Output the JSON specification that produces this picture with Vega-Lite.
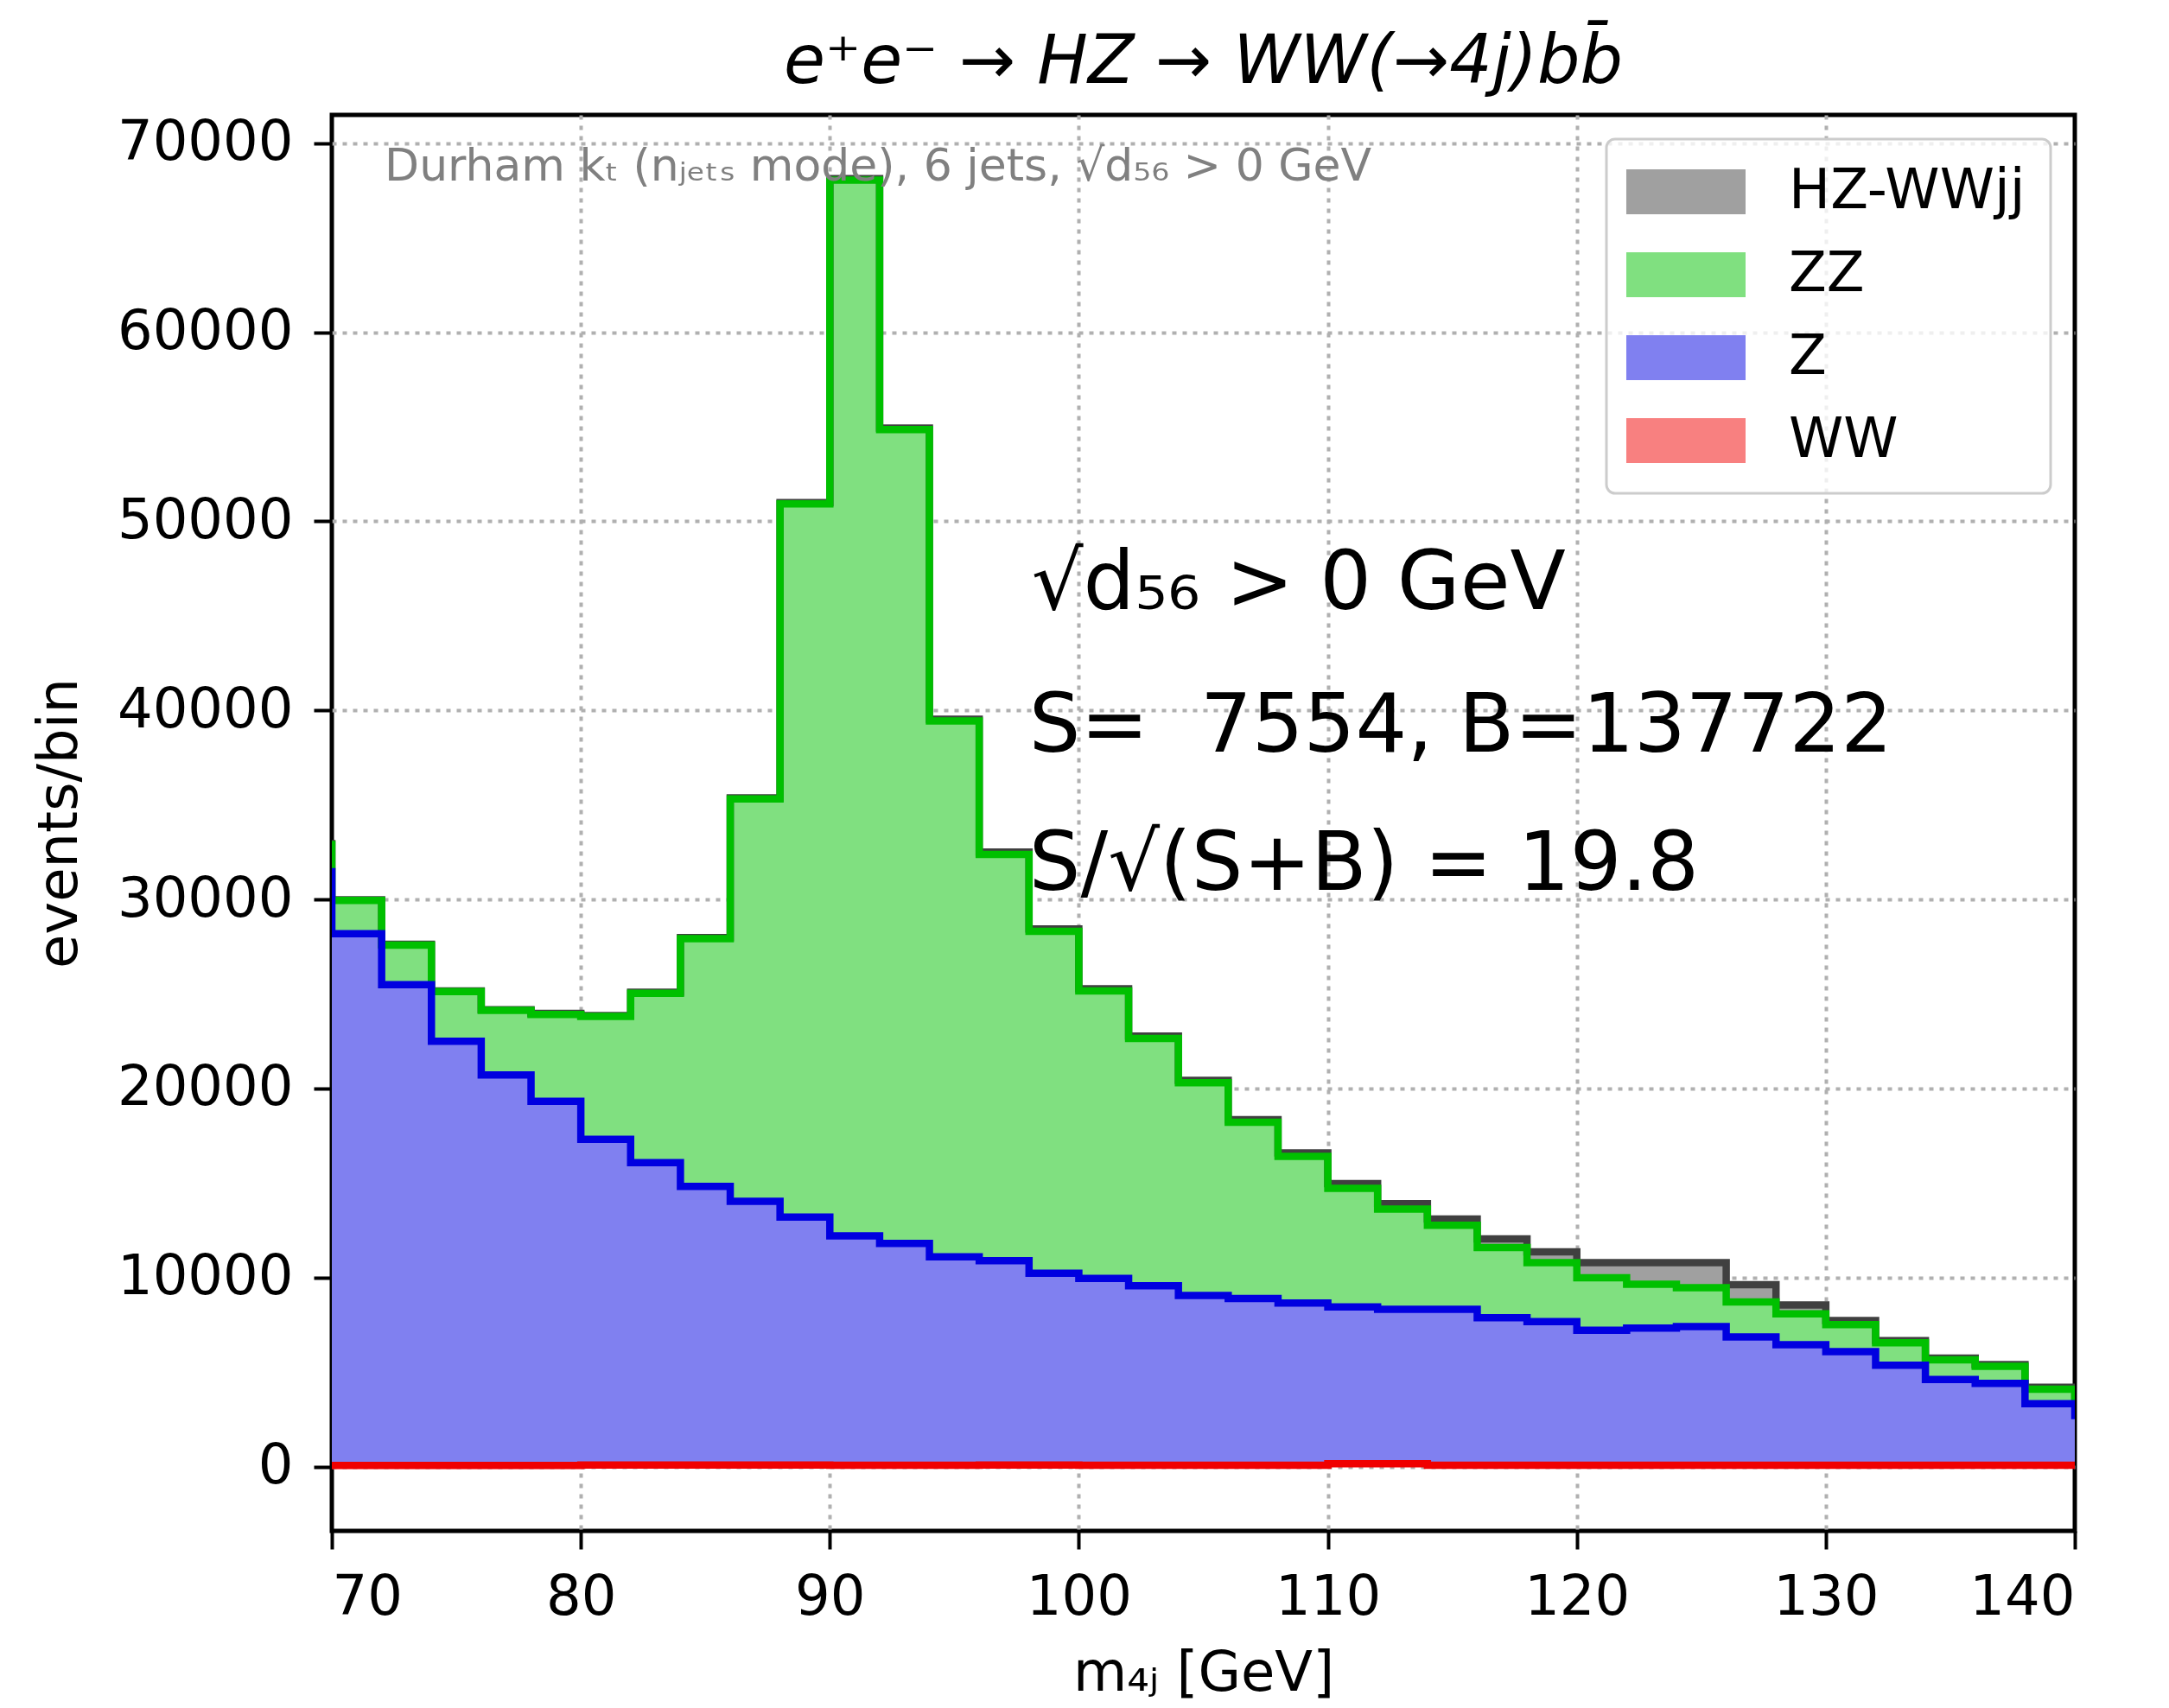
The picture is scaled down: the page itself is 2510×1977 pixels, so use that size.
{
"$schema":"https://vega.github.io/schema/vega-lite/v6.json",
"width":2017,"height":1639,
"autosize":{"type":"none"},
"padding":{"left":384,"top":133,"right":109,"bottom":205},
"background":"white",
"title":{"text":"e⁺e⁻ → HZ → WW(→4j)bb̄","font":"DejaVu Sans","fontSize":78,"fontStyle":"italic","fontWeight":"normal","color":"black","anchor":"middle","offset":21},
"config":{
 "view":{"stroke":"black","strokeWidth":5},
 "axis":{"labelFont":"DejaVu Sans","labelFontSize":64,"labelColor":"black","labelLimit":600,"titleFont":"DejaVu Sans","titleFontSize":64,"titleFontWeight":"normal","titleColor":"black","tickColor":"black","tickWidth":4,"tickSize":21,"domain":false,"grid":true,"gridColor":"#b0b0b0","gridDash":[5,7],"gridWidth":4},
 "text":{"font":"DejaVu Sans"}
},
"layer":[
{
 "data":{"values":[
{"m":68,"p":"HZ-WWjj","k":4,"n":50},{"m":70,"p":"HZ-WWjj","k":4,"n":40},{"m":72,"p":"HZ-WWjj","k":4,"n":40},{"m":74,"p":"HZ-WWjj","k":4,"n":40},{"m":76,"p":"HZ-WWjj","k":4,"n":40},{"m":78,"p":"HZ-WWjj","k":4,"n":60},{"m":80,"p":"HZ-WWjj","k":4,"n":50},{"m":82,"p":"HZ-WWjj","k":4,"n":50},{"m":84,"p":"HZ-WWjj","k":4,"n":60},{"m":86,"p":"HZ-WWjj","k":4,"n":60},{"m":88,"p":"HZ-WWjj","k":4,"n":70},{"m":90,"p":"HZ-WWjj","k":4,"n":80},{"m":92,"p":"HZ-WWjj","k":4,"n":80},{"m":94,"p":"HZ-WWjj","k":4,"n":90},{"m":96,"p":"HZ-WWjj","k":4,"n":120},{"m":98,"p":"HZ-WWjj","k":4,"n":120},{"m":100,"p":"HZ-WWjj","k":4,"n":120},{"m":102,"p":"HZ-WWjj","k":4,"n":120},{"m":104,"p":"HZ-WWjj","k":4,"n":125},{"m":106,"p":"HZ-WWjj","k":4,"n":140},{"m":108,"p":"HZ-WWjj","k":4,"n":180},{"m":110,"p":"HZ-WWjj","k":4,"n":245},{"m":112,"p":"HZ-WWjj","k":4,"n":290},{"m":114,"p":"HZ-WWjj","k":4,"n":325},{"m":116,"p":"HZ-WWjj","k":4,"n":465},{"m":118,"p":"HZ-WWjj","k":4,"n":570},{"m":120,"p":"HZ-WWjj","k":4,"n":795},{"m":122,"p":"HZ-WWjj","k":4,"n":1140},{"m":124,"p":"HZ-WWjj","k":4,"n":1330},{"m":126,"p":"HZ-WWjj","k":4,"n":920},{"m":128,"p":"HZ-WWjj","k":4,"n":470},{"m":130,"p":"HZ-WWjj","k":4,"n":225},{"m":132,"p":"HZ-WWjj","k":4,"n":120},{"m":134,"p":"HZ-WWjj","k":4,"n":90},{"m":136,"p":"HZ-WWjj","k":4,"n":95},{"m":138,"p":"HZ-WWjj","k":4,"n":100},{"m":140,"p":"HZ-WWjj","k":4,"n":80},{"m":142,"p":"HZ-WWjj","k":4,"n":80},
{"m":68,"p":"ZZ","k":3,"n":1439},{"m":70,"p":"ZZ","k":3,"n":1758},{"m":72,"p":"ZZ","k":3,"n":2097},{"m":74,"p":"ZZ","k":3,"n":2621},{"m":76,"p":"ZZ","k":3,"n":3411},{"m":78,"p":"ZZ","k":3,"n":4589},{"m":80,"p":"ZZ","k":3,"n":6502},{"m":82,"p":"ZZ","k":3,"n":8964},{"m":84,"p":"ZZ","k":3,"n":13106},{"m":86,"p":"ZZ","k":3,"n":21278},{"m":88,"p":"ZZ","k":3,"n":37726},{"m":90,"p":"ZZ","k":3,"n":55845},{"m":92,"p":"ZZ","k":3,"n":43046},{"m":94,"p":"ZZ","k":3,"n":28343},{"m":96,"p":"ZZ","k":3,"n":21493},{"m":98,"p":"ZZ","k":3,"n":18086},{"m":100,"p":"ZZ","k":3,"n":15206},{"m":102,"p":"ZZ","k":3,"n":13087},{"m":104,"p":"ZZ","k":3,"n":11251},{"m":106,"p":"ZZ","k":3,"n":9320},{"m":108,"p":"ZZ","k":3,"n":7768},{"m":110,"p":"ZZ","k":3,"n":6279},{"m":112,"p":"ZZ","k":3,"n":5301},{"m":114,"p":"ZZ","k":3,"n":4447},{"m":116,"p":"ZZ","k":3,"n":3712},{"m":118,"p":"ZZ","k":3,"n":3119},{"m":120,"p":"ZZ","k":3,"n":2776},{"m":122,"p":"ZZ","k":3,"n":2324},{"m":124,"p":"ZZ","k":3,"n":2055},{"m":126,"p":"ZZ","k":3,"n":1854},{"m":128,"p":"ZZ","k":3,"n":1631},{"m":130,"p":"ZZ","k":3,"n":1429},{"m":132,"p":"ZZ","k":3,"n":1183},{"m":134,"p":"ZZ","k":3,"n":1041},{"m":136,"p":"ZZ","k":3,"n":900},{"m":138,"p":"ZZ","k":3,"n":771},{"m":140,"p":"ZZ","k":3,"n":800},{"m":142,"p":"ZZ","k":3,"n":800},
{"m":68,"p":"Z","k":2,"n":31405},{"m":70,"p":"Z","k":2,"n":28127},{"m":72,"p":"Z","k":2,"n":25428},{"m":74,"p":"Z","k":2,"n":22442},{"m":76,"p":"Z","k":2,"n":20657},{"m":78,"p":"Z","k":2,"n":19268},{"m":80,"p":"Z","k":2,"n":17220},{"m":82,"p":"Z","k":2,"n":15987},{"m":84,"p":"Z","k":2,"n":14731},{"m":86,"p":"Z","k":2,"n":13956},{"m":88,"p":"Z","k":2,"n":13116},{"m":90,"p":"Z","k":2,"n":12131},{"m":92,"p":"Z","k":2,"n":11738},{"m":94,"p":"Z","k":2,"n":11030},{"m":96,"p":"Z","k":2,"n":10810},{"m":98,"p":"Z","k":2,"n":10153},{"m":100,"p":"Z","k":2,"n":9884},{"m":102,"p":"Z","k":2,"n":9496},{"m":104,"p":"Z","k":2,"n":8985},{"m":106,"p":"Z","k":2,"n":8820},{"m":108,"p":"Z","k":2,"n":8578},{"m":110,"p":"Z","k":2,"n":8293},{"m":112,"p":"Z","k":2,"n":8170},{"m":114,"p":"Z","k":2,"n":8250},{"m":116,"p":"Z","k":2,"n":7802},{"m":118,"p":"Z","k":2,"n":7601},{"m":120,"p":"Z","k":2,"n":7149},{"m":122,"p":"Z","k":2,"n":7254},{"m":124,"p":"Z","k":2,"n":7336},{"m":126,"p":"Z","k":2,"n":6784},{"m":128,"p":"Z","k":2,"n":6377},{"m":130,"p":"Z","k":2,"n":6008},{"m":132,"p":"Z","k":2,"n":5295},{"m":134,"p":"Z","k":2,"n":4542},{"m":136,"p":"Z","k":2,"n":4336},{"m":138,"p":"Z","k":2,"n":3259},{"m":140,"p":"Z","k":2,"n":2630},{"m":142,"p":"Z","k":2,"n":2630},
{"m":68,"p":"WW","k":1,"n":60},{"m":70,"p":"WW","k":1,"n":60},{"m":72,"p":"WW","k":1,"n":60},{"m":74,"p":"WW","k":1,"n":60},{"m":76,"p":"WW","k":1,"n":60},{"m":78,"p":"WW","k":1,"n":60},{"m":80,"p":"WW","k":1,"n":90},{"m":82,"p":"WW","k":1,"n":90},{"m":84,"p":"WW","k":1,"n":90},{"m":86,"p":"WW","k":1,"n":80},{"m":88,"p":"WW","k":1,"n":80},{"m":90,"p":"WW","k":1,"n":70},{"m":92,"p":"WW","k":1,"n":70},{"m":94,"p":"WW","k":1,"n":70},{"m":96,"p":"WW","k":1,"n":80},{"m":98,"p":"WW","k":1,"n":80},{"m":100,"p":"WW","k":1,"n":70},{"m":102,"p":"WW","k":1,"n":70},{"m":104,"p":"WW","k":1,"n":70},{"m":106,"p":"WW","k":1,"n":70},{"m":108,"p":"WW","k":1,"n":70},{"m":110,"p":"WW","k":1,"n":150},{"m":112,"p":"WW","k":1,"n":150},{"m":114,"p":"WW","k":1,"n":70},{"m":116,"p":"WW","k":1,"n":70},{"m":118,"p":"WW","k":1,"n":70},{"m":120,"p":"WW","k":1,"n":70},{"m":122,"p":"WW","k":1,"n":70},{"m":124,"p":"WW","k":1,"n":70},{"m":126,"p":"WW","k":1,"n":70},{"m":128,"p":"WW","k":1,"n":70},{"m":130,"p":"WW","k":1,"n":70},{"m":132,"p":"WW","k":1,"n":70},{"m":134,"p":"WW","k":1,"n":70},{"m":136,"p":"WW","k":1,"n":70},{"m":138,"p":"WW","k":1,"n":70},{"m":140,"p":"WW","k":1,"n":70},{"m":142,"p":"WW","k":1,"n":70}
 ]},
 "transform":[{"stack":"n","groupby":["m"],"sort":[{"field":"k","order":"ascending"}],"as":["y0","y1"]}],
 "layer":[
  {"mark":{"type":"area","interpolate":"step-after","clip":true},
   "encoding":{
    "x":{"field":"m","type":"quantitative","scale":{"domain":[70,140],"nice":false,"zero":false},"axis":{"values":[70,80,90,100,110,120,130,140],"title":"m₄ⱼ [GeV]","labelPadding":24,"titlePadding":24,"gridOpacity":{"condition":{"test":"datum.value == 70 || datum.value == 140","value":0},"value":1}}},
    "y":{"field":"y1","type":"quantitative","scale":{"domain":[-3400,71500],"nice":false,"zero":false},"axis":{"values":[0,10000,20000,30000,40000,50000,60000,70000],"format":"d","title":"events/bin","labelPadding":24,"titleX":-296,"titleBaseline":"alphabetic","titleAngle":270}},
    "y2":{"field":"y0"},
    "fill":{"field":"p","type":"nominal","scale":{"domain":["HZ-WWjj","ZZ","Z","WW"],"range":["#a0a0a0","#80e080","#8080f0","#f88080"]},
     "legend":{"title":null,"orient":"top-right","offset":28,"symbolType":"M-2.654,-1H2.654V1H-2.654Z","symbolSize":2704,"symbolStrokeWidth":0,"symbolOpacity":1,"symbolOffset":31,"labelFont":"DejaVu Sans","labelFontSize":64,"labelColor":"black","labelOffset":87,"labelLimit":600,"rowPadding":32,"padding":29,"strokeColor":"#cccccc","cornerRadius":10,"fillColor":"rgba(255,255,255,0.8)",
      "encode":{"legend":{"update":{"strokeWidth":{"value":3}}}}}}
   }},
  {"transform":[{"filter":"datum.p == 'HZ-WWjj'"}],"mark":{"type":"line","interpolate":"step-after","clip":true,"stroke":"#404040","strokeWidth":8.5},
   "encoding":{"x":{"field":"m","type":"quantitative"},"y":{"field":"y1","type":"quantitative"}}},
  {"transform":[{"filter":"datum.p == 'ZZ'"}],"mark":{"type":"line","interpolate":"step-after","clip":true,"stroke":"#00c000","strokeWidth":8.5},
   "encoding":{"x":{"field":"m","type":"quantitative"},"y":{"field":"y1","type":"quantitative"}}},
  {"transform":[{"filter":"datum.p == 'Z'"}],"mark":{"type":"line","interpolate":"step-after","clip":true,"stroke":"#0000e0","strokeWidth":8.5},
   "encoding":{"x":{"field":"m","type":"quantitative"},"y":{"field":"y1","type":"quantitative"}}},
  {"transform":[{"filter":"datum.p == 'WW'"}],"mark":{"type":"line","interpolate":"step-after","clip":true,"stroke":"#f00000","strokeWidth":8.5},
   "encoding":{"x":{"field":"m","type":"quantitative"},"y":{"field":"y1","type":"quantitative"}}}
 ]
},
{"data":{"values":[{"t":"Durham kₜ (nⱼₑₜₛ mode), 6 jets, √d₅₆ > 0 GeV"}]},
 "mark":{"type":"text","align":"left","baseline":"alphabetic","fontSize":52,"color":"#808080"},
 "encoding":{"x":{"datum":72.12,"type":"quantitative"},"y":{"datum":68005,"type":"quantitative"},"text":{"field":"t"}}},
{"data":{"values":[{"t":"√d₅₆ > 0 GeV"}]},
 "mark":{"type":"text","align":"left","baseline":"alphabetic","fontSize":94,"color":"black"},
 "encoding":{"x":{"datum":98.1,"type":"quantitative"},"y":{"datum":45342,"type":"quantitative"},"text":{"field":"t"}}},
{"data":{"values":[{"t":"S=\u00a0\u00a07554, B=137722"}]},
 "mark":{"type":"text","align":"left","baseline":"alphabetic","fontSize":94,"color":"black"},
 "encoding":{"x":{"datum":98.0,"type":"quantitative"},"y":{"datum":37808,"type":"quantitative"},"text":{"field":"t"}}},
{"data":{"values":[{"t":"S/√(S+B) = 19.8"}]},
 "mark":{"type":"text","align":"left","baseline":"alphabetic","fontSize":94,"color":"black"},
 "encoding":{"x":{"datum":98.0,"type":"quantitative"},"y":{"datum":30502,"type":"quantitative"},"text":{"field":"t"}}}
]
}
